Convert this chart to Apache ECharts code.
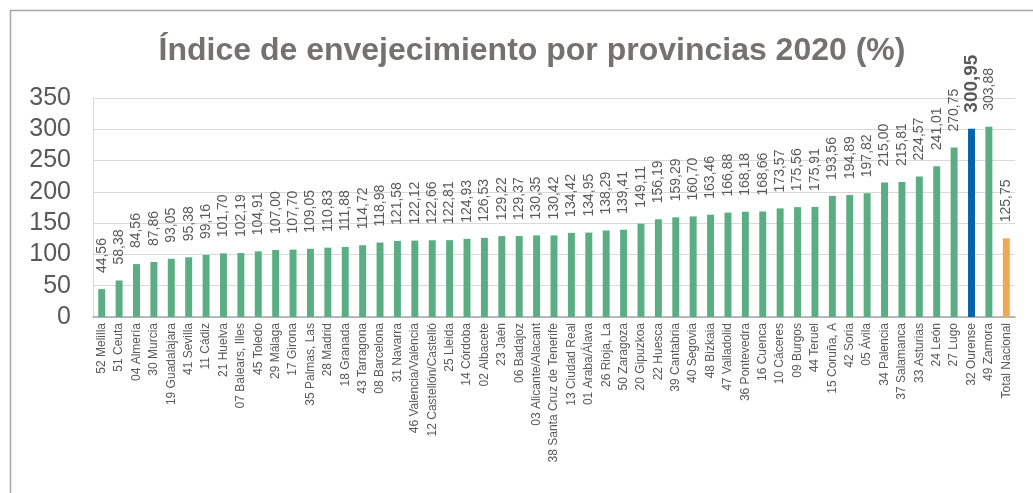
<!DOCTYPE html>
<html>
<head>
<meta charset="utf-8">
<script src="https://cdn.jsdelivr.net/npm/echarts@6/dist/echarts.min.js"></script>
<style>
html, body { margin: 0; padding: 0; background: #fff; }
#chart { width: 1033px; height: 493px; }
</style>
</head>
<body>
<div id="chart"></div>
<script>
// provincias ordenadas por índice
const provincias = [
    "52 Melilla", "51 Ceuta", "04 Almería", "30 Murcia", "19 Guadalajara", "41 Sevilla",
    "11 Cádiz", "21 Huelva", "07 Balears, Illes", "45 Toledo", "29 Málaga", "17 Girona",
    "35 Palmas, Las", "28 Madrid", "18 Granada", "43 Tarragona", "08 Barcelona", "31 Navarra",
    "46 Valencia/València", "12 Castellón/Castelló", "25 Lleida", "14 Córdoba", "02 Albacete",
    "23 Jaén", "06 Badajoz", "03 Alicante/Alacant", "38 Santa Cruz de Tenerife", "13 Ciudad Real",
    "01 Araba/Álava", "26 Rioja, La", "50 Zaragoza", "20 Gipuzkoa", "22 Huesca", "39 Cantabria",
    "40 Segovia", "48 Bizkaia", "47 Valladolid", "36 Pontevedra", "16 Cuenca", "10 Cáceres",
    "09 Burgos", "44 Teruel", "15 Coruña, A", "42 Soria", "05 Ávila", "34 Palencia",
    "37 Salamanca", "33 Asturias", "24 León", "27 Lugo", "32 Ourense", "49 Zamora", "Total Nacional"
];
const indice = [
    44.56, 58.38, 84.56, 87.86, 93.05, 95.38,
    99.16, 101.70, 102.19, 104.91, 107.00, 107.70,
    109.05, 110.83, 111.88, 114.72, 118.98, 121.58,
    122.12, 122.66, 122.81, 124.93, 126.53,
    129.22, 129.37, 130.35, 130.42, 134.42,
    134.95, 138.29, 139.41, 149.11, 156.19, 159.29,
    160.70, 163.46, 166.88, 168.18, 168.66, 173.57,
    175.56, 175.91, 193.56, 194.89, 197.82, 215.00,
    215.81, 224.57, 241.01, 270.75, 300.95, 303.88, 125.75
];
const yTicks = [0, 50, 100, 150, 200, 250, 300, 350];

const destacada = "32 Ourense";
const total = "Total Nacional";

const fmt = v => v.toFixed(2).replace(".", ",");

const barData = indice.map((v, i) => {
    const name = provincias[i];
    const item = { value: v, itemStyle: { color: "#5BAE84" } };
    if (name === destacada) {
        item.itemStyle = { color: "#0563AA" };
        item.label = { fontSize: 19, fontWeight: "bold", color: "#595959" };
    } else if (name === total) {
        item.itemStyle = { color: "#F0A855" };
    }
    return item;
});

const chart = echarts.init(document.getElementById("chart"), null, { renderer: "canvas" });
chart.setOption({
    animation: false,
    backgroundColor: "#fff",
    title: {
        text: "Índice de envejecimiento por provincias 2020 (%)",
        left: 527,
        top: 30,
        textAlign: "center",
        textStyle: {
            fontFamily: "Liberation Sans, Arial",
            fontSize: 32,
            fontWeight: "bold",
            color: "#767171"
        }
    },
    graphic: [{
        type: "rect",
        shape: { x: 10.5, y: 10.5, width: 1040, height: 500 },
        style: { fill: null, stroke: "#a6a6a6", lineWidth: 1.5 },
        silent: true
    }],
    grid: { left: 93, right: 18, top: 98, bottom: 176 },
    xAxis: {
        type: "category",
        data: provincias,
        axisLine: { lineStyle: { color: "#a6a6a6", width: 1.5 } },
        axisTick: { show: false },
        axisLabel: {
            interval: 0,
            rotate: 90,
            margin: 6,
            fontFamily: "Liberation Sans, Arial",
            fontSize: 12,
            color: "#595959"
        }
    },
    yAxis: {
        type: "value",
        min: yTicks[0],
        max: yTicks[yTicks.length - 1],
        interval: 50,
        axisLine: { show: true, lineStyle: { color: "#d9d9d9" } },
        axisTick: { show: false },
        splitLine: { lineStyle: { color: "#d9d9d9" } },
        axisLabel: {
            margin: 22,
            fontFamily: "Liberation Sans, Arial",
            fontSize: 25,
            color: "#595959"
        }
    },
    series: [{
        type: "bar",
        data: barData,
        barWidth: "40%",
        label: {
            show: true,
            position: "top",
            rotate: 90,
            align: "left",
            verticalAlign: "middle",
            distance: 16,
            fontFamily: "Liberation Sans, Arial",
            fontSize: 14,
            color: "#595959",
            formatter: p => fmt(p.value)
        },
        silent: true
    }]
});
</script>
</body>
</html>
